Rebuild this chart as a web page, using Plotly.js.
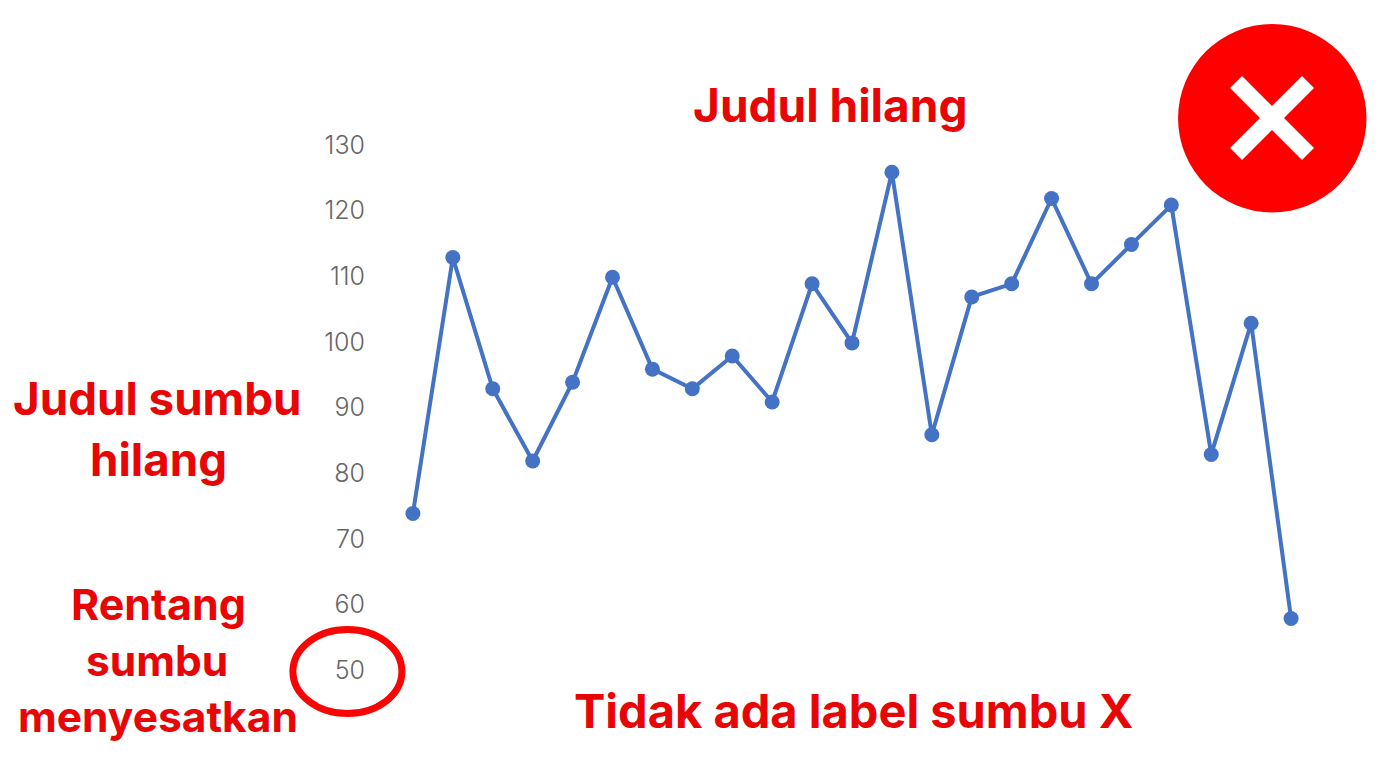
<!DOCTYPE html>
<html><head><meta charset="utf-8">
<script src="https://cdn.plot.ly/plotly-3.0.1.min.js"></script>
<style>html,body{margin:0;padding:0;background:#fff;overflow:hidden}#c{width:1392px;height:768px}</style>
</head><body><div id="c"></div>
<script>
const points = Array.from({length: 23}, (_, i) => i + 1);
const values = [74,113,93,82,94,110,96,93,98,91,109,100,126,86,107,109,122,109,115,121,83,103,58];
const yTicks = [50,60,70,80,90,100,110,120,130];

const W = 1392, H = 768;
const L = 372.6, R = 1331, T = 146, B = 671;
const fx = p => (p - L) / (R - L);
const fy = p => (B - p) / (B - T);
const RED = '#e80505';
const FONT = 'Inter, Roboto, sans-serif';

function note(text, cx, cy, size) {
  return {text, xref:'paper', yref:'paper', x:fx(cx), y:fy(cy), xanchor:'center', yanchor:'middle',
    showarrow:false, font:{family:FONT, size, color:RED, weight:700}};
}
const annotations = [
  note('Judul hilang', 830, 105, 46),
  note('Judul sumbu', 157, 398, 45.7),
  note('hilang', 158.5, 460, 45.7),
  note('Rentang', 158, 604, 43),
  note('sumbu', 156.5, 660, 42.5),
  note('menyesatkan', 157.5, 716, 42.5),
  note('Tidak ada label sumbu X', 853, 710, 47)
];
const shapes = [
  {type:'circle', xref:'paper', yref:'paper', x0:fx(1178), x1:fx(1366.5), y0:fy(24), y1:fy(212.5),
   fillcolor:'#fe0000', line:{width:0}},
  {type:'line', xref:'paper', yref:'paper', x0:fx(1236), y0:fy(82), x1:fx(1308), y1:fy(154), line:{color:'#fff', width:17}},
  {type:'line', xref:'paper', yref:'paper', x0:fx(1236), y0:fy(154), x1:fx(1308), y1:fy(82), line:{color:'#fff', width:17}},
  {type:'circle', xref:'paper', yref:'paper', x0:fx(292.5), x1:fx(401.5), y0:fy(629.5), y1:fy(713.5),
   fillcolor:'rgba(0,0,0,0)', line:{color:'#f80505', width:7}}
];
Plotly.newPlot('c', [{
  type:'scatter', mode:'lines+markers', x:points, y:values, cliponaxis:false,
  line:{color:'#4472c4', width:4}, marker:{color:'#4472c4', size:15}
}], {
  width:W, height:H, showlegend:false, paper_bgcolor:'#fff', plot_bgcolor:'#fff',
  margin:{l:L, r:W-R, t:T, b:H-B, pad:0},
  xaxis:{range:[0,24], visible:false, showgrid:false, zeroline:false},
  yaxis:{range:[50,130], tickvals:yTicks, ticktext:yTicks.map(String), showgrid:false, zeroline:false, showline:false,
    ticks:'', ticklabelstandoff:7, ticklabelshift:-1, tickfont:{family:FONT, size:25, weight:300, color:'#666666'}},
  shapes, annotations
}, {displayModeBar:false, staticPlot:true});
</script></body></html>
